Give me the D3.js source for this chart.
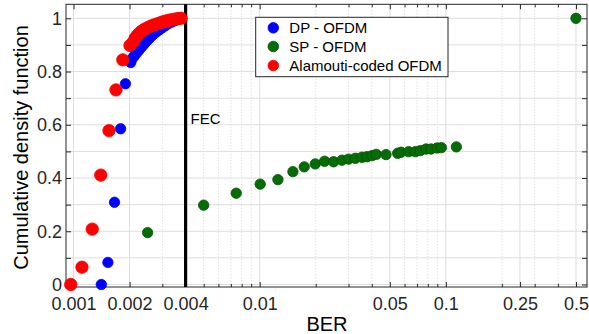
<!DOCTYPE html>
<html>
<head>
<meta charset="utf-8">
<script src="https://cdn.jsdelivr.net/npm/d3@7/dist/d3.min.js"></script>
<style>
  html, body { margin: 0; padding: 0; background: #fff; }
  svg { display: block; font-family: "Liberation Sans", Arial, Helvetica, sans-serif; }
</style>
</head>
<body>
<svg id="chart" width="589" height="334"></svg>
<script>
// ---------------- data ----------------
const seriesNames = ["DP - OFDM", "SP - OFDM", "Alamouti-coded OFDM"];
const seriesColors = ["#0000ff", "#066c06", "#ff0000"];

const dpBER = [0.00141, 0.00153, 0.00166, 0.00179, 0.0019, 0.00203,
  0.002037, 0.002089, 0.002141, 0.002195, 0.00225, 0.002306, 0.002364, 0.002424,
  0.002484, 0.002546, 0.002611, 0.002676, 0.002777, 0.002881, 0.00299, 0.003103,
  0.003221, 0.003343, 0.00347, 0.003601, 0.003737];
const dpCDF = [0.0, 0.083, 0.309, 0.585, 0.754, 0.834,
  0.842, 0.853, 0.862, 0.872, 0.881, 0.890, 0.899, 0.908,
  0.916, 0.924, 0.932, 0.939, 0.948, 0.956, 0.964, 0.972,
  0.979, 0.985, 0.990, 0.995, 1.0];

const spBER = [0.0025, 0.005, 0.00748, 0.01006, 0.01253, 0.01508, 0.01735, 0.01988,
  0.02231, 0.02494, 0.02766, 0.0300, 0.03262, 0.03544, 0.03771, 0.0401, 0.0423,
  0.0477, 0.0551, 0.0574, 0.0631, 0.0686, 0.0729, 0.0783, 0.0832, 0.0897, 0.0946,
  0.1139, 0.5];
const spCDF = [0.195, 0.298, 0.343, 0.377, 0.394, 0.424, 0.442, 0.453,
  0.463, 0.461, 0.467, 0.471, 0.474, 0.478, 0.480, 0.484, 0.489,
  0.488, 0.493, 0.497, 0.499, 0.499, 0.503, 0.509, 0.509, 0.513, 0.514,
  0.517, 1.0];

const alBER = [0.000966, 0.00111, 0.00126, 0.0014, 0.00155, 0.00169, 0.00184, 0.00201,
  0.002089, 0.002141, 0.002195, 0.00225, 0.002306, 0.002364, 0.002424, 0.002515,
  0.002611, 0.00271, 0.002812, 0.002918, 0.003029, 0.003143, 0.003262, 0.003386,
  0.003513, 0.003646, 0.003784];
const alCDF = [0.0, 0.065, 0.208, 0.411, 0.578, 0.731, 0.844, 0.898,
  0.91, 0.925, 0.935, 0.943, 0.95, 0.955, 0.96, 0.966,
  0.971, 0.975, 0.979, 0.983, 0.987, 0.99, 0.993, 0.995,
  0.997, 0.999, 1.0];

const xTickValues = [0.001, 0.002, 0.004, 0.01, 0.05, 0.1, 0.25, 0.5];
const xTickLabels = ["0.001", "0.002", "0.004", "0.01", "0.05", "0.1", "0.25", "0.5"];
const yTickValues = [0, 0.1, 0.2, 0.3, 0.4, 0.5, 0.6, 0.7, 0.8, 0.9, 1];
const yTickLabels = ["0", "", "0.2", "", "0.4", "", "0.6", "", "0.8", "", "1"];
const fecBER = 0.004;
const fecLabel = "FEC";
const xTitle = "BER";
const yTitle = "Cumulative density function";

// ---------------- layout ----------------
const L = 66, R = 587, T = 4.3, B = 287;
const svg = d3.select("#chart");
const x = d3.scaleLog().domain([0.000911, 0.573]).range([L, R]);
const y = d3.scaleLinear().domain([-0.0094, 1.0526]).range([B, T]);

// minor log positions
const minorX = [];
for (let e = -4; e <= 0; e++) {
  for (let m = 1; m <= 9; m++) {
    const v = +(m * Math.pow(10, e)).toPrecision(3);
    if (v >= x.domain()[0] && v <= x.domain()[1] && !xTickValues.some(t => Math.abs(t - v) / v < 1e-6)) minorX.push(v);
  }
}

// grid
const grid = svg.append("g");
grid.selectAll("line.minx").data(minorX).join("line")
  .attr("x1", d => x(d)).attr("x2", d => x(d)).attr("y1", T).attr("y2", B)
  .attr("stroke", "#c9c9c9").attr("stroke-width", 0.8).attr("stroke-dasharray", "1,2");
grid.selectAll("line.majx").data(xTickValues).join("line")
  .attr("x1", d => x(d)).attr("x2", d => x(d)).attr("y1", T).attr("y2", B)
  .attr("stroke", "#dedede").attr("stroke-width", 1);
grid.selectAll("line.majy").data(yTickValues).join("line")
  .attr("x1", L).attr("x2", R).attr("y1", d => y(d)).attr("y2", d => y(d))
  .attr("stroke", "#dedede").attr("stroke-width", 1);

// axes
const axisColor = "#262626";
function styleAxis(g) {
  g.select(".domain").remove();
  g.selectAll("line").attr("stroke", axisColor);
  g.selectAll("text").attr("fill", "#262626");
}
const fmtX = d => xTickLabels[xTickValues.indexOf(d)];
const fmtY = d => yTickLabels[yTickValues.findIndex(v => Math.abs(v - d) < 1e-9)];

svg.append("g").attr("transform", `translate(0,${B})`)
  .call(d3.axisBottom(x).tickValues(xTickValues).tickFormat(fmtX).tickSizeInner(-5).tickSizeOuter(0).tickPadding(10.5))
  .call(styleAxis)
  .call(g => g.selectAll("text").attr("font-size", 18).attr("font-family", "Liberation Sans, Arial, sans-serif"));
svg.append("g").attr("transform", `translate(0,${B})`)
  .call(d3.axisBottom(x).tickValues(minorX).tickFormat("").tickSizeInner(-3).tickSizeOuter(0))
  .call(styleAxis);
svg.append("g").attr("transform", `translate(0,${T})`)
  .call(d3.axisTop(x).tickValues(xTickValues).tickFormat("").tickSizeInner(-5).tickSizeOuter(0))
  .call(styleAxis);
svg.append("g").attr("transform", `translate(0,${T})`)
  .call(d3.axisTop(x).tickValues(minorX).tickFormat("").tickSizeInner(-3).tickSizeOuter(0))
  .call(styleAxis);
svg.append("g").attr("transform", `translate(${L},0)`)
  .call(d3.axisLeft(y).tickValues(yTickValues).tickFormat(fmtY).tickSizeInner(-5).tickSizeOuter(0).tickPadding(4))
  .call(styleAxis)
  .call(g => g.selectAll("text").attr("font-size", 18).attr("font-family", "Liberation Sans, Arial, sans-serif"));
svg.append("g").attr("transform", `translate(${R},0)`)
  .call(d3.axisRight(y).tickValues(yTickValues).tickFormat("").tickSizeInner(-5).tickSizeOuter(0))
  .call(styleAxis);

// frame
svg.append("rect").attr("x", L).attr("y", T).attr("width", R - L).attr("height", B - T)
  .attr("fill", "none").attr("stroke", axisColor).attr("stroke-width", 1);

// FEC line
svg.append("line").attr("x1", x(fecBER)).attr("x2", x(fecBER)).attr("y1", T).attr("y2", B)
  .attr("stroke", "#000").attr("stroke-width", 3.2);
svg.append("text").attr("x", x(fecBER) + 5).attr("y", 124).attr("font-size", 15)
  .attr("fill", "#000").text(fecLabel);

// points
const series = [
  { ber: dpBER, cdf: dpCDF, color: seriesColors[0], r: 5.2, stroke: "#0000ff" },
  { ber: spBER, cdf: spCDF, color: seriesColors[1], r: 5.2, stroke: "#005400" },
  { ber: alBER, cdf: alCDF, color: seriesColors[2], r: 6.2, stroke: "#ff0000" }
];
series.forEach(s => {
  svg.append("g").selectAll("circle").data(s.ber.map((b, i) => [b, s.cdf[i]])).join("circle")
    .attr("cx", d => x(d[0])).attr("cy", d => y(d[1])).attr("r", s.r)
    .attr("fill", s.color).attr("stroke", s.stroke).attr("stroke-width", 0.8);
});

// legend
const lg = svg.append("g");
lg.append("rect").attr("x", 255.7).attr("y", 17.3).attr("width", 192.3).attr("height", 59.4)
  .attr("fill", "#fff").attr("stroke", axisColor).attr("stroke-width", 1);
const legendY = [27.8, 46.5, 65.5];
const legendR = [5.3, 5.3, 5.3];
seriesNames.forEach((name, i) => {
  lg.append("circle").attr("cx", 273.3).attr("cy", legendY[i]).attr("r", legendR[i])
    .attr("fill", seriesColors[i]).attr("stroke", series[i].stroke).attr("stroke-width", 0.8);
  lg.append("text").attr("x", 289.3).attr("y", legendY[i]).attr("dy", "0.35em")
    .attr("font-size", 15).attr("fill", "#000").text(name);
});

// titles
svg.append("text").attr("x", 327).attr("y", 331).attr("text-anchor", "middle")
  .attr("font-size", 20).attr("fill", "#000").text(xTitle);
svg.append("text").attr("transform", "translate(27.5,147.5) rotate(-90)").attr("text-anchor", "middle")
  .attr("font-size", 20).attr("fill", "#000").text(yTitle);
</script>
</body>
</html>
